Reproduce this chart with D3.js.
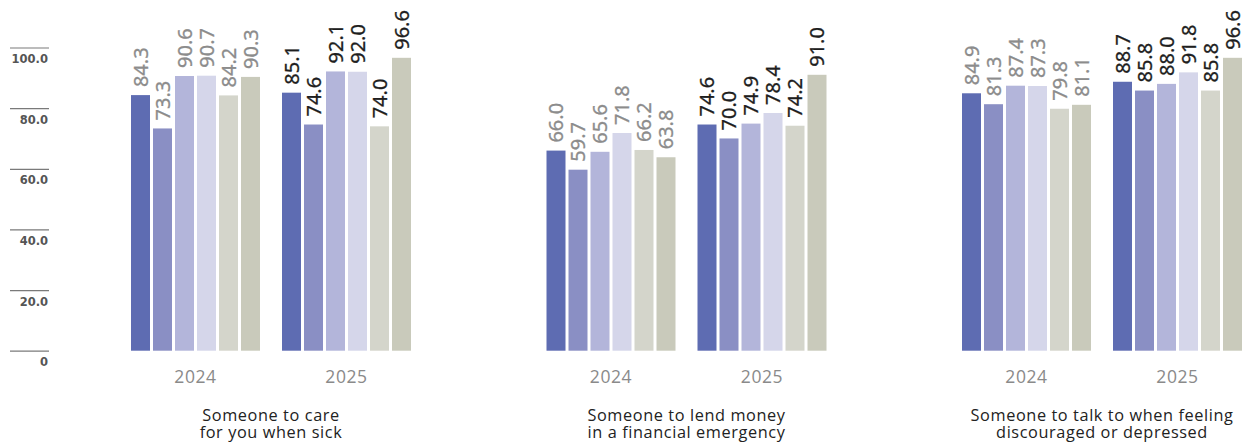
<!DOCTYPE html>
<html>
<head>
<meta charset="utf-8">
<script src="https://cdn.jsdelivr.net/npm/d3@7"></script>
<style>
  html, body { margin: 0; padding: 0; background: #fff; }
  svg { display: block; }
</style>
</head>
<body>
<svg id="chart" width="1243" height="444"></svg>
<script>
// Survey categories (two-line titles) and years
const categories = ["care", "money", "talk"];
const categoryTitles = [
  ["Someone to care", "for you when sick"],
  ["Someone to lend money", "in a financial emergency"],
  ["Someone to talk to when feeling", "discouraged or depressed"]
];
const years = ["2024", "2025"];

// Six groups per year, values in percent
const care2024 = [84.3, 73.3, 90.6, 90.7, 84.2, 90.3];
const care2025 = [85.1, 74.6, 92.1, 92.0, 74.0, 96.6];
const money2024 = [66.0, 59.7, 65.6, 71.8, 66.2, 63.8];
const money2025 = [74.6, 70.0, 74.9, 78.4, 74.2, 91.0];
const talk2024 = [84.9, 81.3, 87.4, 87.3, 79.8, 81.1];
const talk2025 = [88.7, 85.8, 88.0, 91.8, 85.8, 96.6];

const seriesColors = ["#5e6cb2", "#8a8fc4", "#b3b5da", "#d5d6ea", "#d4d5cb", "#c9cabb"];

const tickValues = [0, 20, 40, 60, 80, 100];
const tickLabels = ["0", "20.0", "40.0", "60.0", "80.0", "100.0"];

const valuesByCategory = {
  care: [care2024, care2025],
  money: [money2024, money2025],
  talk: [talk2024, talk2025]
};

const svg = d3.select("#chart");

const y = d3.scaleLinear().domain([0, 100]).range([350.7, 47.5]);

const xCat = d3.scaleBand().domain(categories).range([131, 131 + 3 * 415.5]);
const xYear = d3.scaleBand().domain(years).range([0, 302]);
const xSeries = d3.scaleBand().domain(d3.range(6)).range([0, 129]).paddingInner(3 / 22);

// Y axis: short rules with labels sitting below each rule
const axis = d3.axisLeft(y)
  .tickValues(tickValues)
  .tickSize(39)
  .tickFormat((d, i) => tickLabels[i]);

const axisG = svg.append("g")
  .attr("transform", "translate(49,0)")
  .call(axis);
axisG.select(".domain").remove();
axisG.selectAll(".tick line").attr("stroke", "#7a7a7a").attr("stroke-width", 1.2).attr("x2", -39);
axisG.selectAll(".tick text")
  .attr("x", -1)
  .attr("dy", 15)
  .attr("fill", "#555")
  .style("font-family", "'DejaVu Sans', sans-serif")
  .style("font-weight", "bold")
  .style("font-size", "11.5px");

// Panels
categories.forEach((cat, ci) => {
  const panel = svg.append("g").attr("transform", `translate(${xCat(cat)},0)`);

  years.forEach((yr, yi) => {
    const vals = valuesByCategory[cat][yi];
    const g = panel.append("g").attr("transform", `translate(${xYear(yr)},0)`);

    g.selectAll("rect")
      .data(vals)
      .join("rect")
      .attr("x", (d, i) => xSeries(i))
      .attr("width", xSeries.bandwidth())
      .attr("y", d => y(d))
      .attr("height", d => y(0) - y(d))
      .attr("fill", (d, i) => seriesColors[i]);

    g.selectAll("text.value")
      .data(vals)
      .join("text")
      .attr("class", "value")
      .attr("transform", (d, i) =>
        `translate(${xSeries(i) + xSeries.bandwidth() / 2},${y(d) - 8}) rotate(-90)`)
      .attr("dy", "0.36em")
      .attr("text-anchor", "start")
      .attr("fill", yi === 0 ? "#8c8c8c" : "#1e1e1e")
      .attr("stroke", yi === 0 ? "#8c8c8c" : "#1e1e1e")
      .attr("stroke-width", 0.3)
      .style("font-family", "'Noto Sans', sans-serif")
      .style("font-size", "20px")
      .text(d => d.toFixed(1));

    g.append("text")
      .attr("x", 64.5)
      .attr("y", 383)
      .attr("text-anchor", "middle")
      .attr("fill", "#8a8a8a")
      .style("font-family", "'Open Sans', sans-serif")
      .style("font-size", "17.5px")
      .style("letter-spacing", "0.6px")
      .text(yr);
  });

  const cx = (xYear("2025") + 129) / 2;
  const title = panel.append("text")
    .attr("x", cx)
    .attr("y", 421)
    .attr("text-anchor", "middle")
    .attr("fill", "#222")
    .style("font-family", "'Open Sans', sans-serif")
    .style("font-size", "16.3px")
    .style("letter-spacing", "0.6px");
  categoryTitles[ci].forEach((line, li) => {
    title.append("tspan")
      .attr("x", cx)
      .attr("dy", li === 0 ? 0 : 17)
      .text(line);
  });
});
</script>
</body>
</html>
